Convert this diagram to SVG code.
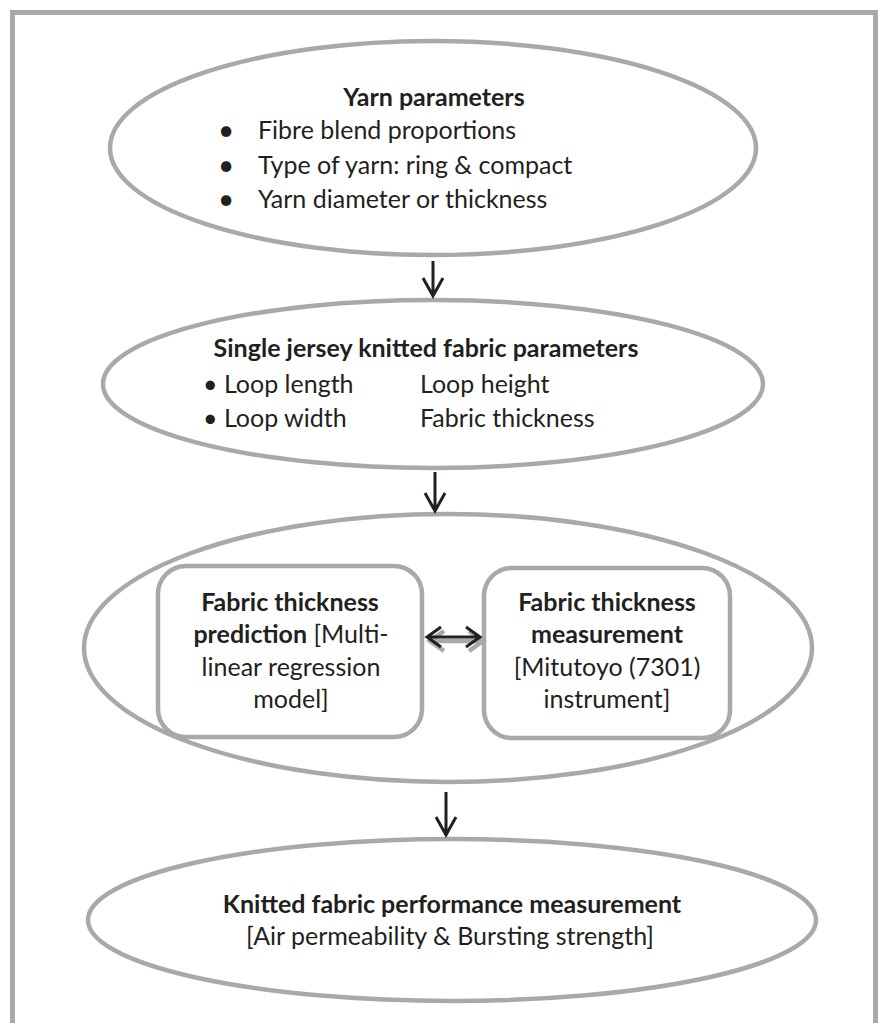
<svg xmlns="http://www.w3.org/2000/svg" width="878" height="1023" viewBox="0 0 878 1023">
<style>
.frame{fill:none;stroke:#a7a9ac;stroke-width:5}
.shape{fill:#ffffff;stroke:#a7a9ac;stroke-width:4.5}
.t{font-family:Lato,"Liberation Sans",sans-serif;font-size:25px;fill:#231f20}
.b{font-weight:bold}
.c{text-anchor:middle}
.bul{font-size:28px}
.arr{fill:none;stroke:#231f20;stroke-width:3;stroke-linejoin:miter;stroke-linecap:butt}
.shadow{fill:none;stroke:#a7a9ac;stroke-width:4.5}
</style>
<rect width="878" height="1023" fill="#ffffff"/>
<path class="frame" d="M12.5 1030 V12.5 H875.5 V1030"/>

<g id="yarn-parameters">
<ellipse class="shape" cx="433" cy="148" rx="323" ry="107"/>
<text class="t b c" x="434" y="106">Yarn parameters</text>
<text class="t c bul" x="226" y="140">•</text>
<text class="t c bul" x="226" y="175">•</text>
<text class="t c bul" x="226" y="209">•</text>
<text class="t" x="258" y="139">Fibre blend proportions</text>
<text class="t" x="258" y="174">Type of yarn: ring &amp; compact</text>
<text class="t" x="258" y="208">Yarn diameter or thickness</text>
</g>

<g id="fabric-parameters">
<ellipse class="shape" cx="433" cy="384" rx="330" ry="84"/>
<text class="t b c" x="426" y="357">Single jersey knitted fabric parameters</text>
<text class="t" x="203" y="393">• Loop length</text>
<text class="t" x="420" y="393">Loop height</text>
<text class="t" x="203" y="427">• Loop width</text>
<text class="t" x="420" y="427">Fabric thickness</text>
</g>

<g id="thickness-group">
<ellipse class="shape" cx="448" cy="648" rx="364" ry="134"/>
</g>

<g id="thickness-prediction">
<rect class="shape" x="158" y="566" width="264" height="171" rx="28"/>
<text class="t b c" x="290" y="611">Fabric thickness</text>
<text class="t c" x="291" y="643"><tspan class="b">prediction</tspan> [Multi-</text>
<text class="t c" x="291" y="676">linear regression</text>
<text class="t c" x="291" y="708">model]</text>
</g>

<g id="thickness-measurement">
<rect class="shape" x="484" y="568" width="246" height="170" rx="28"/>
<text class="t b c" x="607" y="611">Fabric thickness</text>
<text class="t b c" x="607" y="643">measurement</text>
<text class="t c" x="607" y="676">[Mitutoyo (7301)</text>
<text class="t c" x="607" y="708">instrument]</text>
</g>

<g id="performance-measurement">
<ellipse class="shape" cx="452" cy="920" rx="364" ry="81"/>
<text class="t b c" x="452" y="913">Knitted fabric performance measurement</text>
<text class="t c" x="450" y="945">[Air permeability &amp; Bursting strength]</text>
</g>

<g id="connectors">
<path class="arr" d="M433 261 V296 M423 278 L433 296 L443 278"/>
<path class="arr" d="M435 472 V511 M425 493 L435 511 L445 493"/>
<path class="arr" d="M446 792 V835 M436 817 L446 835 L456 817"/>
<g id="double-arrow">
<path class="shadow" d="M431 641 H482 M444 631 L430 641 L444 651 M469 631 L483 641 L469 651"/>
<path class="arr" d="M428 637 H479 M441 627 L427 637 L441 647 M466 627 L480 637 L466 647" stroke-width="4.5"/>
</g>
</g>
</svg>
